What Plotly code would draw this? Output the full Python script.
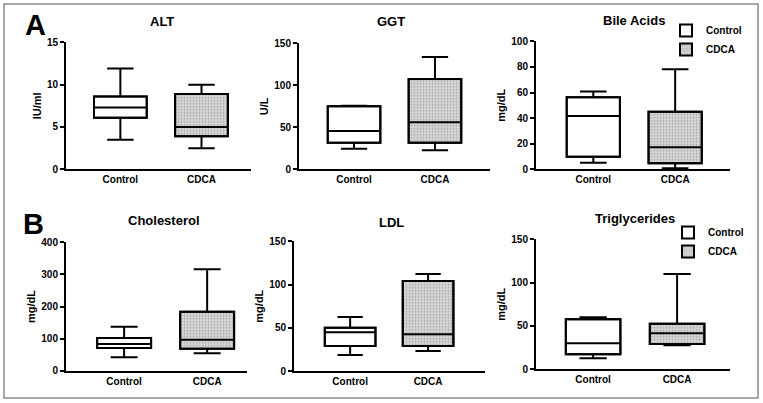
import plotly.graph_objects as go

W, H = 763, 403

groups = ["Control", "CDCA"]
panels = ["ALT", "GGT", "Bile Acids", "Cholesterol", "LDL", "Triglycerides"]
units = ["IU/ml", "U/L", "mg/dL", "mg/dL", "mg/dL", "mg/dL"]

# box statistics per panel: [Control, CDCA]
lower = [[3.5, 2.5], [24.6, 22.6], [5.2, 0.8], [41.6, 54], [18.5, 23.1], [12.7, 27.7]]
q1 = [[6.1, 3.9], [31.7, 31.7], [9.9, 4.7], [70.6, 68.6], [28.9, 28.9], [17.3, 29.2]]
median = [[7.3, 5.0], [45.6, 56.0], [41.7, 17.2], [83.0, 96.6], [44.7, 42.4], [30.0, 41.5]]
q3 = [[8.6, 8.9], [75.0, 107.5], [56.3, 45.0], [101.8, 183.9], [50.1, 104.1], [57.7, 52.7]]
upper = [[11.9, 10.0], [75.6, 133.7], [60.7, 78.1], [137.0, 315.8], [62.5, 112.2], [60.0, 110.0]]

ymax = [15, 150, 100, 400, 150, 150]
ydtick = [5, 50, 20, 100, 50, 50]

# layout geometry (pixels)
xpx = [(66, 251), (299, 490), (536, 730), (66, 247), (294, 485), (536, 730)]
ypx = [(42.3, 169.3), (43.3, 169.3), (41.3, 169.3), (242.3, 370.7), (241.3, 371), (239.3, 369.3)]
xranges = [[-0.67, 1.61], [-0.68, 1.68], [-0.70, 1.67], [-0.70, 1.48], [-0.72, 1.73], [-0.68, 1.63]]
title_pos = [(162, 22), (391, 22), (634, 20), (164, 221), (391, 222), (635, 218)]

FONT = "Liberation Sans, Arial, sans-serif"
BW = 0.65

fig = go.Figure()

for i in range(6):
    xa = "x" if i == 0 else f"x{i+1}"
    ya = "y" if i == 0 else f"y{i+1}"
    leg = None
    if i == 2:
        leg = "legend"
    elif i == 5:
        leg = "legend2"
    for g in range(2):
        if g == 0:
            marker = dict(color="white", line=dict(color="black", width=2))
        else:
            marker = dict(color="#d8d8d8", line=dict(color="black", width=2),
                          pattern=dict(shape=".", fgcolor="#7a7a7a", bgcolor="#dcdcdc",
                                       size=3, solidity=0.4))
        fig.add_trace(go.Bar(
            x=[g], y=[q3[i][g] - q1[i][g]], base=[q1[i][g]], width=BW,
            marker=marker, name=groups[g], xaxis=xa, yaxis=ya,
            showlegend=leg is not None, legend=leg if leg else "legend",
            hoverinfo="skip"))
    for g in range(2):
        fig.add_trace(go.Box(
            x=[g], q1=[q1[i][g]], median=[median[i][g]], q3=[q3[i][g]],
            lowerfence=[lower[i][g]], upperfence=[upper[i][g]],
            width=BW, whiskerwidth=0.5, fillcolor="rgba(0,0,0,0)",
            line=dict(color="black", width=2), boxpoints=False,
            xaxis=xa, yaxis=ya, showlegend=False, name=groups[g]))

layout = dict(
    width=W, height=H,
    margin=dict(l=0, r=0, t=0, b=0, pad=0, autoexpand=False),
    paper_bgcolor="white", plot_bgcolor="white",
    barmode="overlay", boxmode="overlay",
    font=dict(family=FONT, color="black", size=10),
    showlegend=True,
)

for i in range(6):
    sx = "" if i == 0 else str(i + 1)
    x0, x1 = xpx[i]
    yt, yb = ypx[i]
    layout[f"xaxis{sx}"] = dict(
        domain=[x0 / W, x1 / W], anchor=f"y{sx}", range=xranges[i],
        tickvals=[0, 1], ticktext=groups, showline=True, linecolor="black",
        linewidth=2, ticks="", showgrid=False, zeroline=False, automargin=False,
        tickfont=dict(family=FONT, size=10, weight="bold"), fixedrange=True)
    layout[f"yaxis{sx}"] = dict(
        domain=[1 - yb / H, 1 - yt / H], anchor=f"x{sx}", range=[0, ymax[i]],
        dtick=ydtick[i], tick0=0, showline=True, linecolor="black", linewidth=2,
        ticks="outside", ticklen=4, tickwidth=2, tickcolor="black",
        showgrid=False, zeroline=False, automargin=False,
        tickfont=dict(family=FONT, size=10, weight="bold"),
        title=dict(text=units[i], font=dict(family=FONT, size=11, weight="bold"), standoff=3),
        fixedrange=True)

annotations = []
for i in range(6):
    tx, ty = title_pos[i]
    annotations.append(dict(
        x=tx / W, y=1 - ty / H, xref="paper", yref="paper", text=panels[i],
        showarrow=False, xanchor="center", yanchor="middle",
        font=dict(family=FONT, size=13, weight="bold")))
for lab, (lx, ly) in zip(["A", "B"], [(35.5, 25), (33.5, 224)]):
    annotations.append(dict(
        x=lx / W, y=1 - ly / H, xref="paper", yref="paper", text=lab,
        showarrow=False, xanchor="center", yanchor="middle",
        font=dict(family=FONT, size=29, weight="bold")))
layout["annotations"] = annotations

layout["shapes"] = [dict(type="rect", xref="paper", yref="paper",
                         x0=4 / W, x1=758 / W, y0=1 - 398 / H, y1=1 - 4 / H,
                         line=dict(color="#8a8a8a", width=1.5), fillcolor="rgba(0,0,0,0)")]

legfont = dict(family=FONT, size=10, weight="bold")
layout["legend"] = dict(x=666 / W, y=1 - 16 / H, xanchor="left", yanchor="top",
                        bgcolor="rgba(0,0,0,0)", font=legfont, tracegroupgap=0)
layout["legend2"] = dict(x=668 / W, y=1 - 218 / H, xanchor="left", yanchor="top",
                         bgcolor="rgba(0,0,0,0)", font=legfont, tracegroupgap=0)

fig.update_layout(**layout)
fig.write_html("out.html", config={"displayModeBar": False},
               post_script="document.body.style.margin='0px';")
